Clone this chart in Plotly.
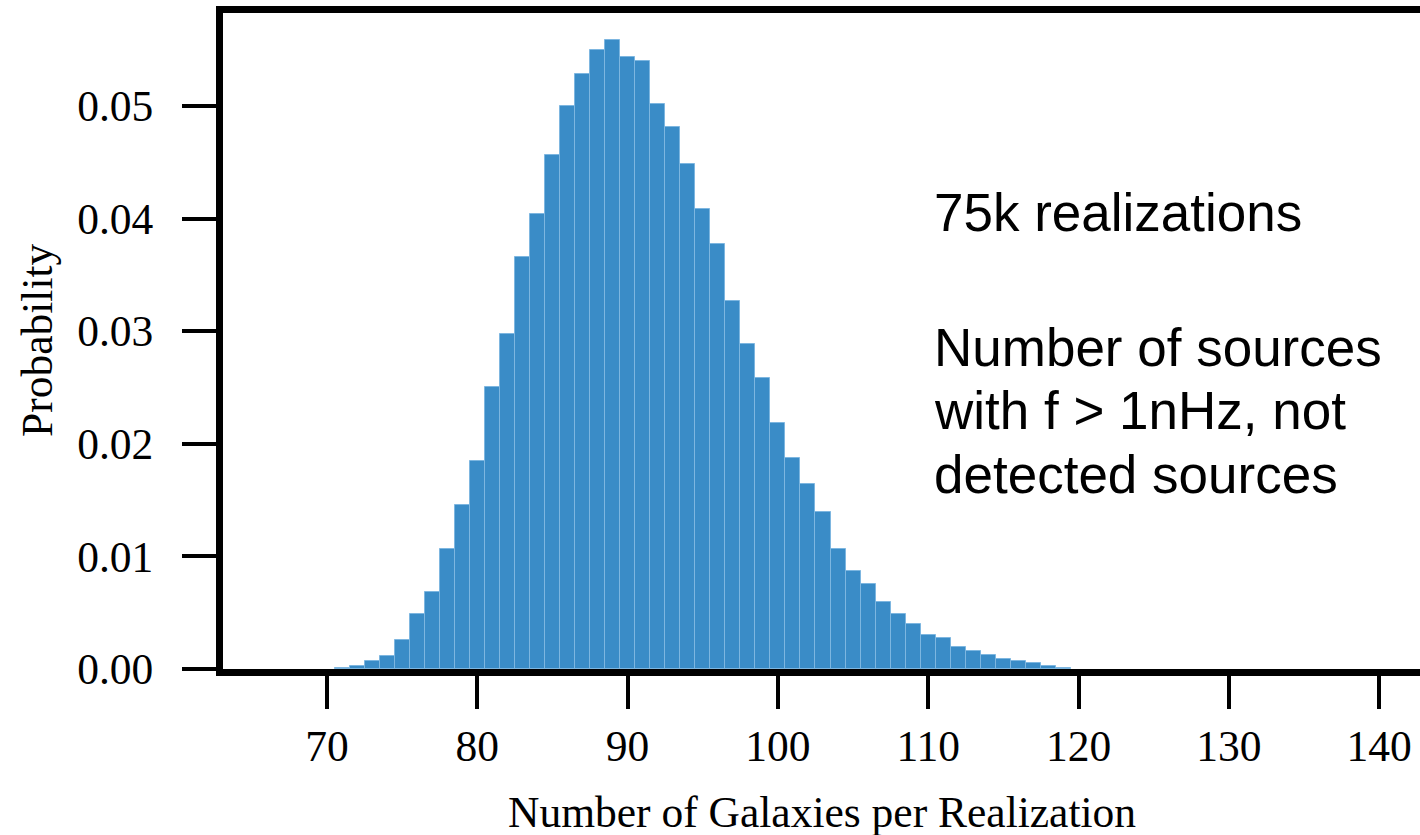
import plotly.graph_objects as go

# Histogram of galaxy counts per realization (unit-width bins centred on integers)
galaxy_counts = list(range(71, 120))
probability = [
    0.00008, 0.0003, 0.00074, 0.00113, 0.0026, 0.00488, 0.00684, 0.01066,
    0.01454, 0.0185, 0.02504, 0.02975, 0.03656, 0.04044, 0.04562, 0.05003,
    0.05287, 0.0550, 0.05583, 0.05438, 0.05397, 0.05018, 0.04816, 0.04485,
    0.04082, 0.03774, 0.03267, 0.02889, 0.02582, 0.02185, 0.01871, 0.01643,
    0.01394, 0.01068, 0.00868, 0.00755, 0.00595, 0.00491, 0.0040, 0.00305,
    0.00275, 0.00193, 0.00163, 0.00122, 0.00091, 0.00074, 0.00053, 0.0003,
    0.0001,
]

x_ticks = [70, 80, 90, 100, 110, 120, 130, 140]
y_ticks = [0.00, 0.01, 0.02, 0.03, 0.04, 0.05]

note_lines = [
    ("75k realizations", 212),
    ("Number of sources", 347),
    ("with f > 1nHz, not", 410),
    ("detected sources", 474),
]

W, H = 1420, 835
L, T, B = 223, 13, 166
plot_h = H - T - B
plot_w = W - L

tick_font = dict(family="Liberation Serif, Times New Roman, serif", size=43.5, color="black")
title_font = dict(family="Liberation Serif, Times New Roman, serif", size=43.5, color="black")
sans = dict(family="Liberation Sans, Helvetica, Arial, sans-serif", size=53, color="black")

fig = go.Figure()
fig.add_trace(go.Bar(
    x=galaxy_counts,
    y=probability,
    width=1.0,
    marker=dict(color="#3a8cc7", line=dict(color="#7db6e0", width=1)),
    hoverinfo="x+y",
))

annotations = [
    dict(text="Number of Galaxies per Realization", xref="paper", yref="paper",
         x=(822 - L) / plot_w, y=(H - B - 812) / plot_h,
         xanchor="center", yanchor="middle", showarrow=False, font=title_font),
    dict(text="Probability", xref="paper", yref="paper",
         x=(37 - L) / plot_w, y=(H - B - 340) / plot_h, textangle=-90,
         xanchor="center", yanchor="middle", showarrow=False, font=title_font),
]
for line, py in note_lines:
    annotations.append(dict(
        text=line, xref="paper", yref="paper",
        x=(932 - L) / plot_w, y=(H - B - py) / plot_h,
        xanchor="left", yanchor="middle", showarrow=False, font=sans,
    ))

fig.update_layout(
    width=W, height=H,
    margin=dict(l=L, r=0, t=T, b=B, pad=0, autoexpand=False),
    paper_bgcolor="white", plot_bgcolor="white",
    bargap=0, showlegend=False,
    annotations=annotations,
)
fig.update_xaxes(
    range=[70 - (327 - L) / 15.03, 70 + (W - 327) / 15.03],
    tickvals=x_ticks, ticks="outside", ticklen=33, tickwidth=3.5, tickcolor="black",
    showline=True, linewidth=7, linecolor="black", mirror=True,
    showgrid=False, zeroline=False, tickfont=tick_font, ticklabelstandoff=0,
)
fig.update_yaxes(
    range=[0, plot_h / 11260],
    tickvals=y_ticks, tickformat=".2f", ticks="outside", ticklen=34, tickwidth=3.5,
    tickcolor="black", showline=True, linewidth=7, linecolor="black", mirror=False,
    showgrid=False, zeroline=False, tickfont=tick_font, ticklabelstandoff=20,
)

fig.write_html("out.html")
